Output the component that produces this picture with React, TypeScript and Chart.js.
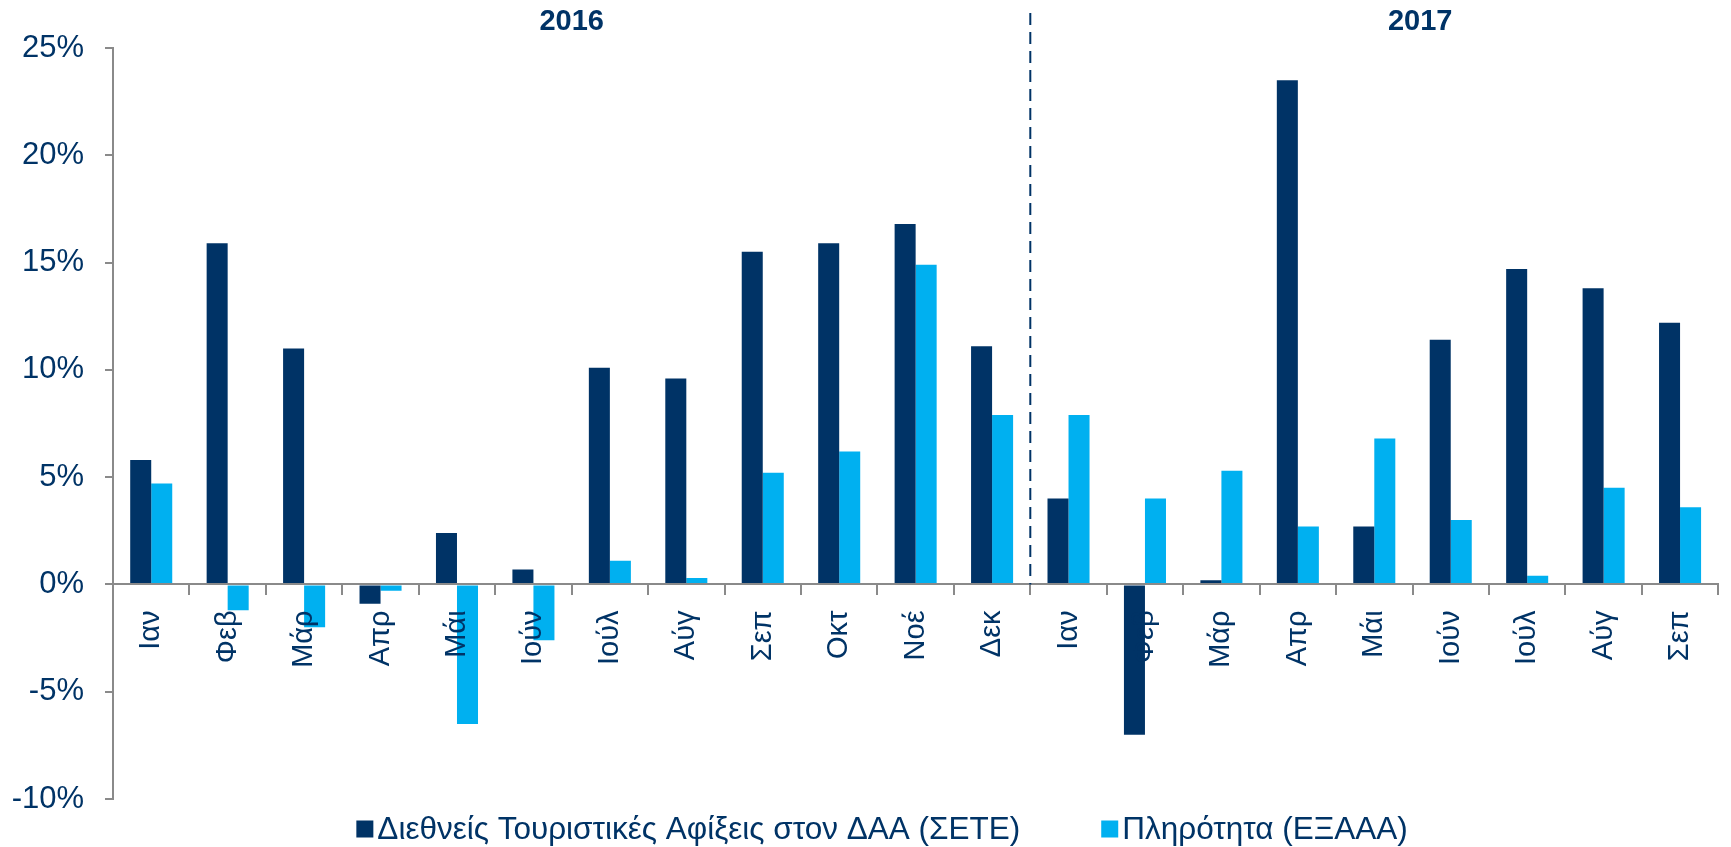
import React, { useEffect, useRef } from 'react';
import { Chart, registerables } from 'chart.js';

Chart.register(...registerables);

// ---- Data ----
const categories = [
  'Ιαν', 'Φεβ', 'Μάρ', 'Απρ', 'Μάι', 'Ιούν', 'Ιούλ', 'Αύγ', 'Σεπ', 'Οκτ', 'Νοέ', 'Δεκ',
  'Ιαν', 'Φεβ', 'Μάρ', 'Απρ', 'Μάι', 'Ιούν', 'Ιούλ', 'Αύγ', 'Σεπ',
];
const arrivals = [
  5.8, 15.9, 11.0, -0.9, 2.4, 0.7, 10.1, 9.6, 15.5, 15.9, 16.8, 11.1,
  4.0, -7.0, 0.2, 23.5, 2.7, 11.4, 14.7, 13.8, 12.2,
];
const occupancy = [
  4.7, -1.2, -2.0, -0.3, -6.5, -2.6, 1.1, 0.3, 5.2, 6.2, 14.9, 7.9,
  7.9, 4.0, 5.3, 2.7, 6.8, 3.0, 0.4, 4.5, 3.6,
];
const seriesNames = ['Διεθνείς Τουριστικές Αφίξεις στον ΔΑΑ (ΣΕΤΕ)', 'Πληρότητα (ΕΞΑΑΑ)'];
const yearLabels = ['2016', '2017'];
const yTicks = { min: -10, max: 25, step: 5 };

// ---- Styles ----
const NAVY = '#003366';
const LIGHT = '#00B0F0';
const GRAY = '#8a8a8a';
const FONT = '"Liberation Sans", Arial, sans-serif';

const overlayPlugin = {
  id: 'overlay',
  afterDraw(chart: any) {
    const { ctx, chartArea } = chart;
    const x = chart.scales.x;
    const y = chart.scales.y;
    ctx.save();

    // dashed divider between the two years
    const xd = x.getPixelForValue(11.5);
    ctx.strokeStyle = NAVY;
    ctx.lineWidth = 2;
    ctx.setLineDash([12, 7]);
    ctx.beginPath();
    ctx.moveTo(xd, chartArea.top - 35);
    ctx.lineTo(xd, y.getPixelForValue(0));
    ctx.stroke();
    ctx.setLineDash([]);

    // year labels
    ctx.fillStyle = NAVY;
    ctx.font = `bold 29px ${FONT}`;
    ctx.textAlign = 'center';
    ctx.textBaseline = 'middle';
    const anchors = [5.5, 16.6];
    yearLabels.forEach((t, i) => {
      ctx.fillText(t, x.getPixelForValue(anchors[i]), chartArea.top - 26);
    });

    // legend
    ctx.font = `31.5px ${FONT}`;
    ctx.textAlign = 'left';
    const box = 17;
    const gapText = 4;
    const gapItems = 81;
    const items = chart.data.datasets.map((ds: any) => ({
      text: ds.label,
      color: ds.backgroundColor,
      w: box + gapText + ctx.measureText(ds.label).width,
    }));
    const total = items.reduce((s: number, it: any) => s + it.w, 0) + gapItems * (items.length - 1);
    let lx = 882 - total / 2;
    const ly = chartArea.bottom + 30;
    items.forEach((it: any) => {
      ctx.fillStyle = it.color;
      ctx.fillRect(lx, ly - box / 2, box, box);
      ctx.fillStyle = NAVY;
      ctx.fillText(it.text, lx + box + gapText, ly + 1);
      lx += it.w + gapItems;
    });
    ctx.restore();
  },
};

export default function App() {
  const ref = useRef<HTMLCanvasElement | null>(null);

  useEffect(() => {
    if (!ref.current) return;
    const chart = new Chart(ref.current, {
      type: 'bar',
      data: {
        labels: categories,
        datasets: [
          {
            label: seriesNames[0],
            data: arrivals,
            backgroundColor: NAVY,
            categoryPercentage: 0.55,
            barPercentage: 1,
          },
          {
            label: seriesNames[1],
            data: occupancy,
            backgroundColor: LIGHT,
            categoryPercentage: 0.55,
            barPercentage: 1,
          },
        ],
      },
      options: {
        animation: false,
        responsive: false,
        maintainAspectRatio: false,
        layout: { padding: { top: 48, bottom: 48, left: 0, right: 6 } },
        plugins: {
          legend: { display: false },
          tooltip: { enabled: false },
          title: { display: false },
        },
        scales: {
          x: {
            type: 'category',
            position: { y: 0 } as any,
            offset: true,
            afterFit: (s: any) => {
              s.height = 0;
            },
            grid: {
              display: true,
              drawOnChartArea: false,
              drawTicks: true,
              tickLength: 10,
              color: GRAY,
              lineWidth: 2,
              offset: true,
              z: 1,
            },
            border: { display: true, color: GRAY, width: 2, z: 1 },
            ticks: {
              autoSkip: false,
              maxRotation: 90,
              minRotation: 90,
              padding: 16,
              color: NAVY,
              font: { family: FONT, size: 29 },
              z: 1,
            },
          },
          y: {
            min: yTicks.min,
            max: yTicks.max,
            afterFit: (s: any) => {
              s.width = 113;
            },
            grid: {
              display: true,
              drawOnChartArea: false,
              drawTicks: true,
              tickLength: 8,
              color: GRAY,
              lineWidth: 2,
            },
            border: { display: true, color: GRAY, width: 2 },
            ticks: {
              stepSize: yTicks.step,
              padding: 21,
              color: NAVY,
              font: { family: FONT, size: 31 },
              callback: (v: any) => `${v}%`,
            },
          },
        },
      },
      plugins: [overlayPlugin],
    });
    return () => chart.destroy();
  }, []);

  return (
    <div style={{ position: 'fixed', left: 0, top: 0, width: 1731, height: 847, background: '#fff' }}>
      <canvas ref={ref} width={1731} height={847} style={{ width: 1731, height: 847, display: 'block' }} />
    </div>
  );
}
